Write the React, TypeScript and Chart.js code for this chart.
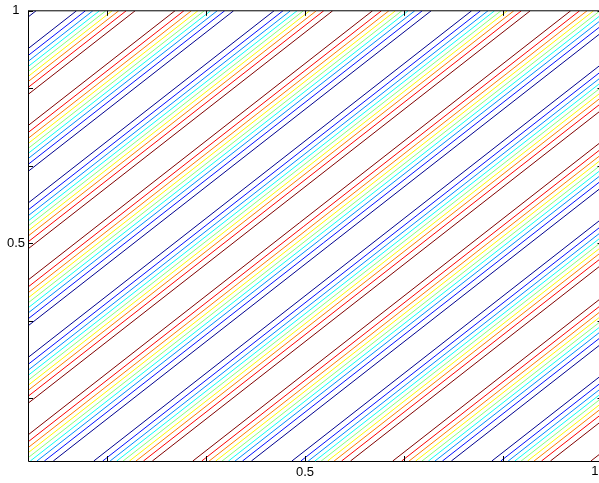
import React, { useEffect, useRef } from 'react';
import { Chart, registerables } from 'chart.js';

Chart.register(...registerables);

// Centres (in x − y) of the low bands
const troughCenters = [-1.25, -0.918, -0.586, -0.254, 0.079, 0.412, 0.748, 1.081];
// Distance (in x − y) of each contour level's line from a low-band centre
const levelOffsets = [0.034, 0.049, 0.0615, 0.0726, 0.0833, 0.094, 0.105, 0.1175, 0.1325];
const levelValues = [-0.8, -0.6, -0.4, -0.2, 0, 0.2, 0.4, 0.6, 0.8];
const levelColors = [
  'rgb(0,0,143)',
  'rgb(0,14,255)',
  'rgb(0,139,255)',
  'rgb(10,255,245)',
  'rgb(135,255,120)',
  'rgb(255,249,0)',
  'rgb(255,123,0)',
  'rgb(253,0,0)',
  'rgb(128,0,0)',
];
const tickValues = [1 / 6, 2 / 6, 3 / 6, 4 / 6, 5 / 6, 1];
const tickLabels = ['', '', '0.5', '', '', '1'];
const xRange = [0.0345, 1];
const yRange = [0.032, 1];
const FONT_FAMILY = '"Liberation Sans", Arial, sans-serif';
const FONT_SIZE = 13;

function buildLevel(k: number) {
  const pts: { x: number; y: number | null }[] = [];
  for (const c of troughCenters) {
    for (const s of [-1, 1]) {
      const u = c + s * levelOffsets[k];
      const x0 = Math.max(xRange[0], yRange[0] + u);
      const x1 = Math.min(xRange[1], yRange[1] + u);
      if (x1 > x0) {
        pts.push({ x: x0, y: x0 - u }, { x: x1, y: x1 - u }, { x: x1, y: null });
      }
    }
  }
  return pts;
}

const labelFor = (v: number) => {
  let best = 0;
  for (let i = 0; i < tickValues.length; i++) {
    if (Math.abs(tickValues[i] - v) < Math.abs(tickValues[best] - v)) best = i;
  }
  return tickLabels[best];
};

// x labels that would be cut by the window edge are kept inside it
const VISIBLE_RIGHT = 599;

const boxPlugin = {
  id: 'box',
  afterDatasetsDraw(chart: any) {
    const { ctx, chartArea: a, scales } = chart;
    ctx.save();
    ctx.strokeStyle = '#000';
    ctx.lineWidth = 1;
    const L = 5;
    ctx.beginPath();
    for (const v of tickValues) {
      const px = Math.round(scales.x.getPixelForValue(v)) + 0.5;
      ctx.moveTo(px, a.bottom);
      ctx.lineTo(px, a.bottom - L);
      ctx.moveTo(px, a.top);
      ctx.lineTo(px, a.top + L);
      const py = Math.round(scales.y.getPixelForValue(v)) + 0.5;
      ctx.moveTo(a.left, py);
      ctx.lineTo(a.left + L, py);
      ctx.moveTo(a.right, py);
      ctx.lineTo(a.right - L, py);
    }
    ctx.stroke();
    ctx.beginPath();
    ctx.moveTo(a.left + 0.5, a.top);
    ctx.lineTo(a.left + 0.5, a.bottom + 0.5);
    ctx.lineTo(a.right, a.bottom + 0.5);
    ctx.moveTo(a.left, a.top);
    ctx.lineTo(a.right, a.top);
    ctx.moveTo(a.right, a.top);
    ctx.lineTo(a.right, a.bottom);
    ctx.stroke();

    // x labels that fall past the visible edge
    ctx.font = `${FONT_SIZE}px ${FONT_FAMILY}`;
    ctx.fillStyle = '#000';
    ctx.textBaseline = 'top';
    ctx.textAlign = 'center';
    tickValues.forEach((v, i) => {
      const lab = tickLabels[i];
      if (!lab) return;
      const px = scales.x.getPixelForValue(v);
      const w = ctx.measureText(lab).width;
      if (px + w / 2 > VISIBLE_RIGHT) {
        ctx.fillText(lab, VISIBLE_RIGHT - w / 2 - 0.5, a.bottom + 4);
      }
    });
    ctx.restore();
  },
};

export default function App() {
  const ref = useRef<HTMLCanvasElement>(null);
  useEffect(() => {
    if (!ref.current) return;
    const font = { family: FONT_FAMILY, size: FONT_SIZE };
    const chart = new Chart(ref.current, {
      type: 'scatter',
      data: {
        datasets: levelValues.map((lv, k) => ({
          label: String(lv),
          data: buildLevel(k),
          showLine: true,
          spanGaps: false,
          borderColor: levelColors[k],
          backgroundColor: levelColors[k],
          borderWidth: 1,
          pointRadius: 0,
          fill: false,
        })),
      },
      options: {
        animation: false,
        responsive: false,
        devicePixelRatio: 1,
        layout: { padding: { top: 8, left: 0, right: 17.5, bottom: 0 } },
        plugins: { legend: { display: false }, tooltip: { enabled: false } },
        scales: {
          x: {
            type: 'linear',
            min: xRange[0],
            max: xRange[1],
            afterBuildTicks: (s: any) => {
              s.ticks = tickValues.map((v) => ({ value: v }));
            },
            afterFit: (s: any) => {
              s.height = 22;
            },
            ticks: {
              callback: (v: any) => {
                const lab = labelFor(Number(v));
                // the edge label is drawn by the plugin so it stays visible
                return Number(v) === xRange[1] ? '' : lab;
              },
              font,
              color: '#000',
              padding: 4,
              maxRotation: 0,
              autoSkip: false,
            },
            grid: { display: false, drawTicks: false },
            border: { display: false },
          },
          y: {
            type: 'linear',
            min: yRange[0],
            max: yRange[1],
            afterBuildTicks: (s: any) => {
              s.ticks = tickValues.map((v) => ({ value: v }));
            },
            afterFit: (s: any) => {
              s.width = 28;
            },
            ticks: {
              callback: (v: any) => labelFor(Number(v)),
              font,
              color: '#000',
              padding: 3,
              crossAlign: 'center',
              autoSkip: false,
            },
            grid: { display: false, drawTicks: false },
            border: { display: false },
          },
        },
      },
      plugins: [boxPlugin],
    } as any);
    return () => chart.destroy();
  }, []);
  return (
    <div
      style={{
        position: 'fixed',
        left: 0,
        top: 0,
        width: 599,
        height: 483,
        overflow: 'hidden',
        background: '#fff',
      }}
    >
      <canvas ref={ref} width={620} height={483} style={{ display: 'block' }} />
    </div>
  );
}
